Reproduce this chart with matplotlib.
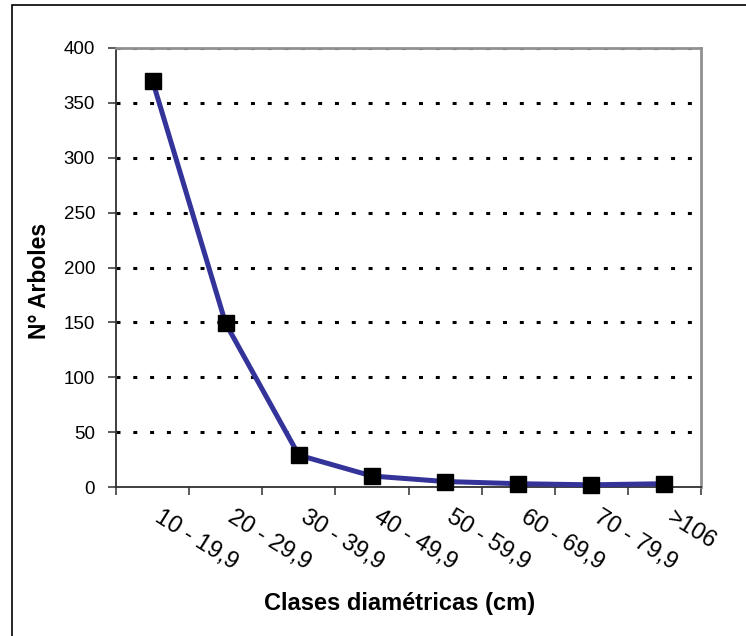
import numpy as np
import matplotlib
matplotlib.use("Agg")
import matplotlib.pyplot as plt
import matplotlib.patches as mpatches
import matplotlib.transforms as mtransforms

clases = ["10 - 19,9", "20 - 29,9", "30 - 39,9", "40 - 49,9",
          "50 - 59,9", "60 - 69,9", "70 - 79,9", ">106"]
arboles = [370, 149, 29, 10, 5, 3, 2, 3]
y_ticks = [0, 50, 100, 150, 200, 250, 300, 350, 400]

plt.rcParams['font.family'] = ['Liberation Sans', 'DejaVu Sans']

W, H = 746, 636
fig = plt.figure(figsize=(W / 100, H / 100), dpi=100)
ax = fig.add_axes([116 / W, 1 - 487 / H, 585 / W, 439 / H])

# outer chart frame (cut off at right and bottom like the original)
frame = mpatches.Rectangle((12 / W, -0.1), 2, (H - 5) / H + 0.1,
                           transform=fig.transFigure, fill=False,
                           edgecolor='black', linewidth=1.2)
fig.patches.append(frame)

x = np.arange(len(clases)) + 0.5
ax.plot(x, arboles, color='#333399', linewidth=3.6, zorder=3,
        marker='s', markersize=11.5, markerfacecolor='black',
        markeredgecolor='black', clip_on=False)

ax.set_xlim(0, len(clases))
ax.set_ylim(0, 400)
ax.set_yticks(y_ticks)
ax.set_yticklabels([str(v) for v in y_ticks], fontsize=13.5)

# category boundaries as major ticks, labels on minor ticks
ax.set_xticks(np.arange(len(clases) + 1))
ax.set_xticklabels([])
ax.set_xticks(x, minor=True)
ax.set_xticklabels(clases, minor=True, rotation=-32, ha='left',
                   va='top', rotation_mode='anchor', fontsize=17)
ax.tick_params(axis='x', which='minor', length=0, pad=14)
ax.tick_params(axis='x', which='major', length=6, width=1.2, color='#404040')
ax.tick_params(axis='y', length=6, width=1.2, color='#404040', pad=9)

shift = mtransforms.ScaledTranslation(10 / 100, 0, fig.dpi_scale_trans)
for lbl in ax.get_xticklabels(minor=True):
    lbl.set_transform(lbl.get_transform() + shift)

for v in y_ticks[1:]:
    ax.axhline(v, color='black', linewidth=2.2, linestyle=(0, (1.3, 4.2)),
               dash_capstyle='butt', zorder=1)

ax.spines['left'].set_color('#303030')
ax.spines['bottom'].set_color('#303030')
ax.spines['left'].set_linewidth(1.3)
ax.spines['bottom'].set_linewidth(1.3)
ax.spines['top'].set_color('#909090')
ax.spines['right'].set_color('#909090')
ax.spines['top'].set_linewidth(2)
ax.spines['right'].set_linewidth(2)

ax.set_ylabel("N° Arboles", fontsize=16.5, fontweight='bold', va='center')
ax.yaxis.set_label_coords(-0.13, 0.47)
ax.set_xlabel("Clases diamétricas (cm)", fontsize=17, fontweight='bold',
              va='center')
ax.xaxis.set_label_coords(0.484, -0.265)

fig.savefig("out.png", dpi=100)
